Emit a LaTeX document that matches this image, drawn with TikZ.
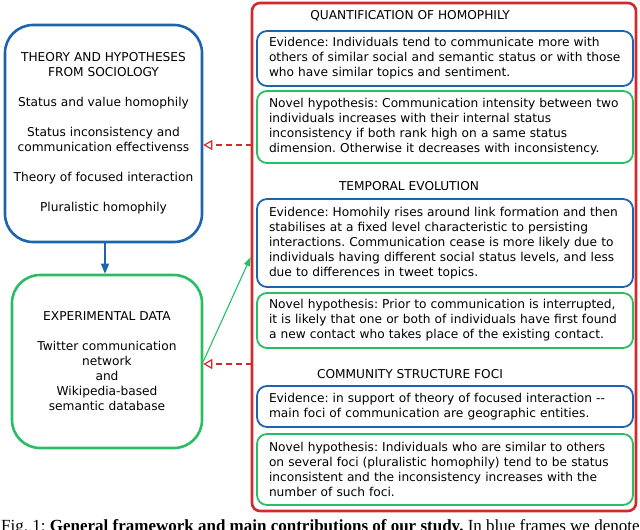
\documentclass[tikz,border=0pt]{standalone}
\usepackage{fontspec}
\setmainfont{DejaVu Sans}
\newfontfamily\capfont{Liberation Serif}
\usetikzlibrary{arrows.meta}
\definecolor{cblue}{RGB}{30,100,172}
\definecolor{cgreen}{RGB}{40,190,100}
\definecolor{cred}{RGB}{212,40,45}
\begin{document}
\frenchspacing
\begin{tikzpicture}[x=1pt,y=-1pt,
  txt/.style={font=\fontsize{12.2}{15}\selectfont, text=black},
  bigbox/.style={draw, line width=2.6pt, rounded corners=28pt, align=center, txt, inner sep=0pt},
  innerbox/.style={draw, line width=1.8pt, rounded corners=10pt, minimum width=376pt, text width=352pt, align=left, txt, inner sep=0pt, anchor=center},
  evid/.style={innerbox, draw=cblue},
  novel/.style={innerbox, draw=cgreen},
  ttl/.style={txt, inner sep=0pt},
  dasharrow/.style={draw=cred, line width=1.2pt, dash pattern=on 6pt off 4pt, -{Triangle[open, length=9pt, width=10pt, line width=1.2pt]}},
]
\useasboundingbox (0,0) rectangle (640,530);
\fill[white] (0,0) rectangle (640,530);

% left boxes
\node[bigbox, draw=cblue, minimum width=197pt, minimum height=217pt] (theory) at (103.5,133.5)
  {THEORY AND HYPOTHESES\\FROM SOCIOLOGY\\[15pt]
   Status and value homophily\\[15pt]
   Status inconsistency and\\communication effectivenss\\[15pt]
   Theory of focused interaction\\[15pt]
   Pluralistic homophily};
\node[bigbox, draw=cgreen, minimum width=190pt, minimum height=173pt] (data) at (107,361.5)
  {EXPERIMENTAL DATA\\[15pt]
   Twitter communication\\network\\and\\
   Wikipedia-based\\semantic database};

% right big red box
\node[draw=cred, line width=2.6pt, rounded corners=8pt, minimum width=384pt, minimum height=508pt, inner sep=0pt] (results) at (444,257) {};

\node[ttl] (t1) at (410,16) {QUANTIFICATION OF HOMOPHILY};
\node[evid, minimum height=55pt] (e1) at (445,58.5) {Evidence: Individuals tend to communicate more with\\others of similar social and semantic status or with those\\who have similar topics and sentiment.};
\node[novel, minimum height=72pt] (n1) at (445,127) {Novel hypothesis: Communication intensity between two\\individuals increases with their internal status\\inconsistency if both rank high on a same status\\dimension. Otherwise it decreases with inconsistency.};

\node[ttl] (t2) at (409,186) {TEMPORAL EVOLUTION};
\node[evid, minimum height=88pt] (e2) at (445,243) {Evidence: Homohily rises around link formation and then\\stabilises at a fixed level characteristic to persisting\\interactions. Communication cease is more likely due to\\individuals having different social status levels, and less\\due to differences in tweet topics.};
\node[novel, minimum height=55pt] (n2) at (445,320.5) {Novel hypothesis: Prior to communication is interrupted,\\it is likely that one or both of individuals have first found\\a new contact who takes place of the existing contact.};

\node[ttl] (t3) at (410,374) {COMMUNITY STRUCTURE FOCI};
\node[evid, minimum height=41pt] (e3) at (445,406.5) {Evidence: in support of theory of focused interaction -{}-\\main foci of communication are geographic entities.};
\node[novel, minimum height=71pt] (n3) at (445,469.5) {Novel hypothesis: Individuals who are similar to others\\on several foci (pluralistic homophily) tend to be status\\inconsistent and the inconsistency increases with the\\number of such foci.};

% connectors
\coordinate (a1) at (105,242);
\coordinate (r1) at (252,145);
\coordinate (r2) at (252,364);
\draw[cblue, line width=1.3pt, -{Triangle[length=10pt, width=8pt]}] (a1) -- (a1 |- data.north);
\draw[dasharrow] (r1) -- (r1 -| theory.east);
\draw[dasharrow] (r2) -- (r2 -| data.east);
\draw[cgreen, line width=1.1pt, -{Triangle[length=9pt, width=6pt]}] (data.east) -- (results.west);

% caption (cut off at the lower edge, as in the reference)
\begin{scope}
\clip (0,0) rectangle (640,530);
\node[anchor=base west, inner sep=0pt, font=\capfont\fontsize{17}{19}\selectfont] (cap) at (1,531.5)
  {Fig. 1: \textbf{General framework and main contributions of our study.} In blue frames we denote};
\end{scope}
\end{tikzpicture}
\end{document}
